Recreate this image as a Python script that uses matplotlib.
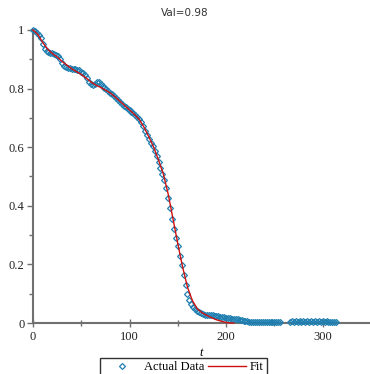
import numpy as np
import matplotlib
matplotlib.use('Agg')
import matplotlib.pyplot as plt
from matplotlib.ticker import MultipleLocator

# measured points (t, value)
t_data = list(range(0, 258, 2)) + list(range(266, 316, 2))
v_data = [1.000, 0.996, 0.990, 0.984, 0.972, 0.952, 0.936, 0.928, 0.924, 0.921,
          0.920, 0.918, 0.916, 0.912, 0.900, 0.886, 0.878, 0.873, 0.870, 0.869,
          0.868, 0.867, 0.866, 0.864, 0.862, 0.858, 0.853, 0.846, 0.836, 0.824,
          0.815, 0.812, 0.815, 0.821, 0.823, 0.816, 0.808, 0.803, 0.797, 0.791,
          0.785, 0.780, 0.775, 0.768, 0.762, 0.755, 0.748, 0.742, 0.736, 0.730,
          0.726, 0.720, 0.716, 0.710, 0.704, 0.697, 0.686, 0.671, 0.655, 0.641,
          0.628, 0.615, 0.603, 0.588, 0.570, 0.550, 0.530, 0.508, 0.487, 0.460,
          0.428, 0.392, 0.356, 0.322, 0.290, 0.262, 0.230, 0.198, 0.163, 0.128,
          0.100, 0.080, 0.066, 0.056, 0.048, 0.042, 0.037, 0.033, 0.031, 0.029,
          0.028, 0.027, 0.026, 0.026, 0.025, 0.024, 0.023, 0.021, 0.020, 0.019,
          0.018, 0.017, 0.016, 0.015, 0.014, 0.013, 0.012, 0.011, 0.009, 0.008,
          0.007, 0.006, 0.005, 0.005, 0.004, 0.004, 0.003, 0.003, 0.003, 0.002,
          0.003, 0.002, 0.003, 0.004, 0.003, 0.002, 0.003, 0.004, 0.003,
          0.004, 0.006, 0.005, 0.006, 0.005, 0.007, 0.005, 0.006, 0.005, 0.006,
          0.004, 0.006, 0.005, 0.007, 0.005, 0.006, 0.004, 0.006, 0.005, 0.006,
          0.004, 0.005, 0.004, 0.003, 0.004]

# fitted curve
t_fit = [0, 5, 10, 15, 20, 25, 30, 35, 40, 45, 50, 55, 60, 65, 70, 75, 80, 85,
         90, 95, 100, 105, 110, 115, 120, 125, 130, 135, 140, 145, 150, 155,
         160, 165, 170, 175, 180, 185, 190, 195, 200, 205, 208]
v_fit = [1.0, 0.985, 0.958, 0.935, 0.920, 0.908, 0.893, 0.880, 0.868, 0.858,
         0.848, 0.836, 0.823, 0.812, 0.804, 0.795, 0.785, 0.772, 0.757, 0.742,
         0.727, 0.712, 0.695, 0.668, 0.635, 0.600, 0.556, 0.508, 0.440, 0.355,
         0.270, 0.190, 0.122, 0.077, 0.049, 0.035, 0.026, 0.018, 0.011, 0.006,
         0.002, 0.0, 0.0]

title = 'Val=0.98'
serif = 'Liberation Serif'
axcol = '#707070'

fig = plt.figure(figsize=(3.70, 3.74), dpi=100)
ax = fig.add_axes([33/370, 51/374, 1 - 33/370, (323 - 30)/374])

ax.plot(t_data, v_data, linestyle='none', marker='D', markersize=3.0,
        markerfacecolor='none', markeredgecolor='#1f7fb0', markeredgewidth=0.9,
        label='Actual Data', clip_on=False, zorder=3)
ax.plot(t_fit, v_fit, color='#d01010', linewidth=1.0, label='Fit',
        clip_on=False, zorder=4)

ax.set_xlim(0, 349)
ax.set_ylim(0, 1)
ax.xaxis.set_major_locator(MultipleLocator(100))
ax.xaxis.set_minor_locator(MultipleLocator(50))
ax.yaxis.set_minor_locator(MultipleLocator(0.1))
ax.set_yticks([0, 0.2, 0.4, 0.6, 0.8, 1])
ax.set_yticklabels(['0', '0.2', '0.4', '0.6', '0.8', '1'])

for s in ['top', 'right']:
    ax.spines[s].set_visible(False)
for s in ['left', 'bottom']:
    ax.spines[s].set_color(axcol)
    ax.spines[s].set_linewidth(1.5)

ax.tick_params(axis='x', which='major', direction='inout', length=6, width=1,
               color=axcol, labelsize=9, pad=3, labelcolor='#222222')
ax.tick_params(axis='x', which='minor', direction='inout', length=4, width=1,
               color=axcol)
ax.tick_params(axis='y', which='major', direction='out', length=4, width=1,
               color=axcol, labelsize=9, pad=2, labelcolor='#222222')
ax.tick_params(axis='y', which='minor', direction='out', length=3, width=1,
               color=axcol)
for lab in ax.get_xticklabels() + ax.get_yticklabels():
    lab.set_fontfamily(serif)

ax.set_xlabel('t', fontfamily=serif, fontstyle='italic', fontsize=9, labelpad=3)
fig.text(0.5, 0.965, title, ha='center', va='center', fontsize=7.5,
         color='#333333', fontfamily='DejaVu Sans')

leg = fig.legend(loc='upper center', bbox_to_anchor=(0.495, 0.042), ncol=2,
                 frameon=True, fancybox=False, handlelength=3.0,
                 columnspacing=0.3, handletextpad=0.3, borderpad=0.25,
                 borderaxespad=0, prop={'family': serif, 'size': 9})
leg.get_frame().set_edgecolor('black')
leg.get_frame().set_linewidth(1.0)

fig.savefig('out.png', dpi=100)
